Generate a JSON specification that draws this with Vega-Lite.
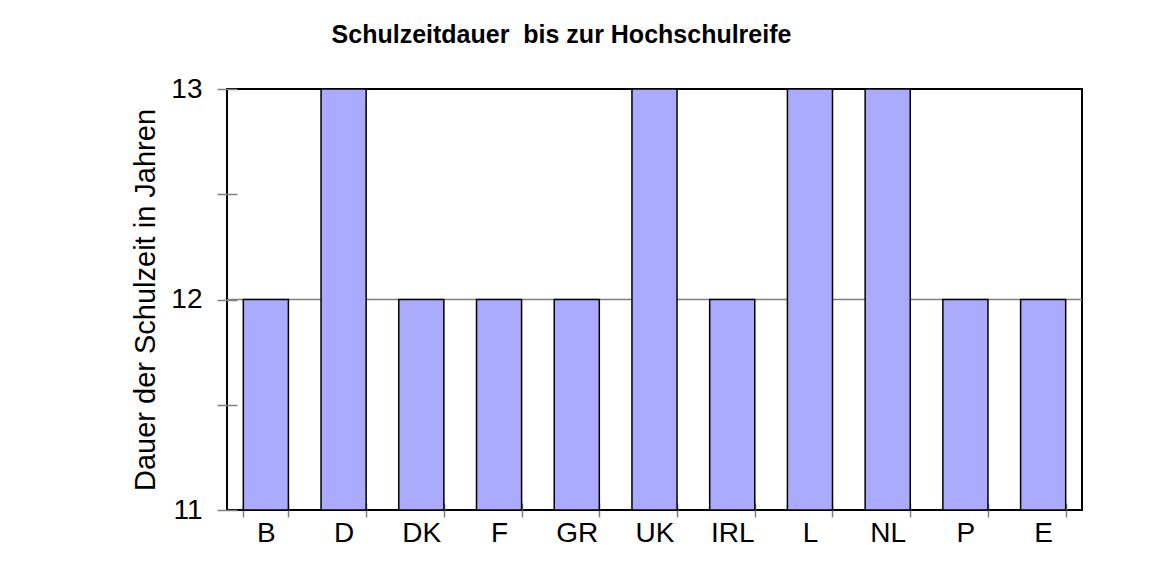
{
  "$schema": "https://vega.github.io/schema/vega-lite/v6.json",
  "width": 855,
  "height": 421,
  "autosize": {"type": "none"},
  "padding": {"left": 227, "top": 89, "right": 73, "bottom": 75},
  "background": "white",
  "title": {
    "text": "Schulzeitdauer\u00a0 bis zur Hochschulreife",
    "font": "Liberation Sans",
    "fontSize": 25,
    "fontWeight": "bold",
    "color": "black",
    "anchor": "middle",
    "dx": -93,
    "offset": 27
  },
  "data": {
    "values": [
      {"land": "B", "jahre": 12},
      {"land": "D", "jahre": 13},
      {"land": "DK", "jahre": 12},
      {"land": "F", "jahre": 12},
      {"land": "GR", "jahre": 12},
      {"land": "UK", "jahre": 13},
      {"land": "IRL", "jahre": 12},
      {"land": "L", "jahre": 13},
      {"land": "NL", "jahre": 13},
      {"land": "P", "jahre": 12},
      {"land": "E", "jahre": 12}
    ]
  },
  "layer": [
    {
      "data": {"values": [{"grid": 12}]},
      "mark": {"type": "rule", "color": "#808080", "strokeWidth": 1.5},
      "encoding": {"y": {"field": "grid", "type": "quantitative"}}
    },
    {
      "mark": {"type": "bar", "fill": "#AAAAFF", "stroke": "black", "strokeWidth": 1.5},
      "encoding": {
        "x": {
          "field": "land",
          "type": "nominal",
          "sort": null,
          "scale": {"paddingInner": 0.42, "paddingOuter": 0.21},
          "axis": {
            "title": null,
            "labelAngle": 0,
            "tickBand": "extent",
            "offset": -7,
            "tickSize": 14,
            "domain": false,
            "tickColor": "#808080",
            "tickWidth": 1.5,
            "labelFontSize": 28,
            "labelColor": "black",
            "labelPadding": 2,
            "labelFont": "Liberation Sans"
          }
        },
        "y": {
          "field": "jahre",
          "type": "quantitative",
          "scale": {"domain": [11, 13], "zero": false, "nice": false},
          "axis": {
            "values": [11, 11.5, 12, 12.5, 13],
            "labelExpr": "datum.value % 1 === 0 ? format(datum.value, 'd') : ''",
            "grid": false,
            "domain": false,
            "offset": -10,
            "tickSize": 20,
            "tickColor": "#808080",
            "tickWidth": 1.5,
            "labelFontSize": 28,
            "labelColor": "black",
            "labelPadding": 15,
            "labelFont": "Liberation Sans",
            "labelOverlap": false,
            "title": "Dauer der Schulzeit in Jahren",
            "titleFont": "Liberation Sans",
            "titleFontSize": 29,
            "titleFontWeight": "normal",
            "titleColor": "black",
            "titlePadding": 10
          }
        },
        "y2": {"datum": 11}
      }
    }
  ],
  "config": {
    "view": {"stroke": "black", "strokeWidth": 2},
    "font": "Liberation Sans"
  }
}
